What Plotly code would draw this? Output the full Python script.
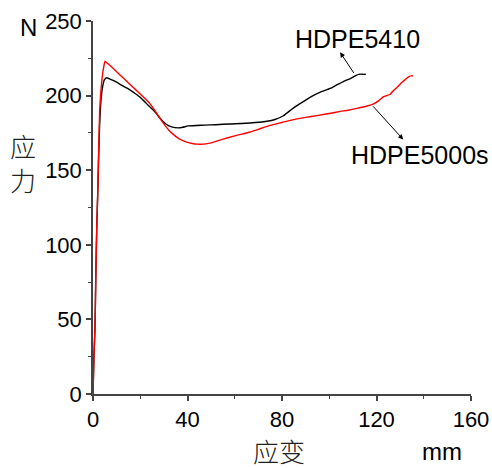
import plotly.graph_objects as go

# HDPE5410 (black)
strain_5410 = [0, 0.4, 0.85, 1.2, 1.6, 2.0, 2.4, 2.8, 3.2, 3.7, 4.2, 4.8, 5.8, 8, 10, 12.1, 15, 17.8, 20,
               23.4, 26, 29.1, 31, 33.3, 36.1, 38, 40.3, 44, 47.4, 52, 58, 66.5, 73.6, 77, 80.6, 84.9, 88,
               92, 96, 100.4, 103, 106.1, 108.9, 111.4, 112.5, 113.5, 114.5, 115.5]
stress_5410 = [0, 25, 45, 80, 112, 134, 160, 180, 193, 202, 207, 210.5, 212, 210.5, 209, 207, 204.5, 201.4, 198.8,
               193.5, 189.5, 183.5, 180.8, 179, 178.4, 178.8, 179.7, 180, 180.2, 180.5, 181, 181.6, 182.8, 184, 186.5, 191.8, 195,
               199, 202.2, 204.8, 207, 209.6, 211.4, 213.6, 214.2, 214.4, 214.2, 214.3]

# HDPE5000s (red)
strain_5000s = [0, 0.4, 0.85, 1.2, 1.6, 2.0, 2.4, 2.8, 3.2, 3.7, 4.2, 4.7, 5.1, 6, 8, 10, 12, 15, 18,
                20, 22, 24, 26, 28, 30, 32, 34, 36, 38, 40, 42, 44, 47, 50, 55, 60, 66.5, 70, 75,
                80, 83.5, 90, 94.8, 100, 104.7, 108, 111.7, 116, 118.8, 121, 123, 125.8, 127.3, 129, 130.8,
                133.6, 134.6, 135.4]
stress_5000s = [0, 25, 45, 80, 112, 134, 162, 189, 200, 209.5, 216, 220.5, 223, 221.8, 219, 216, 213, 208.5, 204,
                201, 198, 194.8, 190.5, 185.5, 181, 177, 174, 171.5, 169.8, 168.6, 167.9, 167.5, 167.5, 168.3, 170.8, 173, 175.6, 177.4, 180,
                182, 183.4, 185.4, 186.6, 188, 189.4, 190.2, 191.4, 193, 194.5, 196.6, 199.3, 200.9, 203.6, 206, 208.9,
                212.6, 213.2, 213.3]

x_ticks = [0, 40, 80, 120, 160]
y_ticks = [0, 50, 100, 150, 200, 250]

fig = go.Figure()
fig.add_trace(go.Scatter(x=strain_5410, y=stress_5410, mode="lines",
                         line=dict(color="#000000", width=1.4, shape="spline", smoothing=0.4),
                         showlegend=False))
fig.add_trace(go.Scatter(x=strain_5000s, y=stress_5000s, mode="lines",
                         line=dict(color="#ff0000", width=1.4, shape="spline", smoothing=0.4),
                         showlegend=False))

tickfont = dict(family="Liberation Sans, Arial, sans-serif", size=22, color="#000")
axis_common = dict(showline=True, linecolor="#444", linewidth=1.5, ticks="outside",
                   ticklen=5, tickwidth=1.5, tickcolor="#444", showgrid=False, zeroline=False,
                   tickfont=tickfont, fixedrange=True, automargin=False)

fig.update_xaxes(range=[0, 160], tickvals=x_ticks, ticktext=[str(v) for v in x_ticks],
                 minor=dict(dtick=20, tick0=0, ticks="outside", ticklen=3, tickwidth=1.2, tickcolor="#444"),
                 **axis_common)
fig.update_yaxes(range=[0, 250], tickvals=y_ticks, ticktext=[str(v) for v in y_ticks],
                 minor=dict(dtick=25, tick0=0, ticks="outside", ticklen=3, tickwidth=1.2, tickcolor="#444"),
                 **axis_common)

latin = dict(family="Liberation Sans, Arial, sans-serif", size=25, color="#000")
cjk = dict(family="Noto Sans CJK SC", size=26, color="#222", weight=300)

annotations = [
    # arrows
    dict(x=104.6, y=229, ax=110.8, ay=214.2, xref="x", yref="y", axref="x", ayref="y",
         text="", showarrow=True, arrowhead=2, arrowsize=1, arrowwidth=1, arrowcolor="#000"),
    dict(x=131.3, y=170.6, ax=118.0, ay=193.8, xref="x", yref="y", axref="x", ayref="y",
         text="", showarrow=True, arrowhead=2, arrowsize=1, arrowwidth=1, arrowcolor="#000"),
    # series labels
    dict(x=112.0, y=237.9, xref="x", yref="y", text="HDPE5410", showarrow=False,
         font=latin, xanchor="center", yanchor="middle"),
    dict(x=138.5, y=160.4, xref="x", yref="y", text="HDPE5000s", showarrow=False,
         font=latin, xanchor="center", yanchor="middle"),
    # axis titles / units
    dict(x=-0.1706, y=0.982, xref="paper", yref="paper", text="N", showarrow=False,
         font=dict(family="Liberation Sans, Arial, sans-serif", size=24, color="#000"),
         xanchor="center", yanchor="middle"),
    dict(x=-0.1865, y=0.62, xref="paper", yref="paper", text="应<br>力", showarrow=False,
         font=cjk, xanchor="center", yanchor="middle"),
    dict(x=0.492, y=-0.1527, xref="paper", yref="paper", text="应变", showarrow=False,
         font=cjk, xanchor="center", yanchor="middle"),
    dict(x=0.9246, y=-0.1554, xref="paper", yref="paper", text="mm", showarrow=False,
         font=dict(family="Liberation Sans, Arial, sans-serif", size=24, color="#000"),
         xanchor="center", yanchor="middle"),
]

fig.update_layout(width=492, height=468, margin=dict(l=93, r=21, t=21, b=74),
                  paper_bgcolor="white", plot_bgcolor="white", annotations=annotations)

fig.write_html("out.html")
